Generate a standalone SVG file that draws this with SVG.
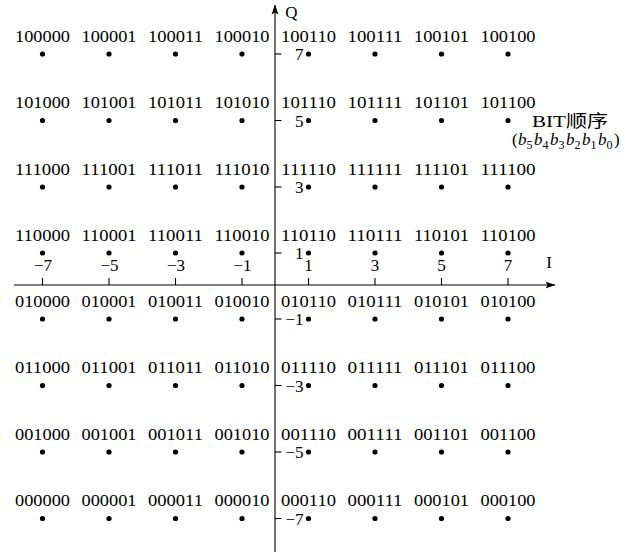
<svg xmlns="http://www.w3.org/2000/svg" width="630" height="552" viewBox="0 0 630 552">
<style>
.lbl{font-family:"Liberation Serif",serif;font-size:17px;text-anchor:middle;fill:#000}
.tk{font-family:"Liberation Serif",serif;font-size:17px;fill:#000}
.tx{text-anchor:middle}
.ty{text-anchor:end}
.ax{stroke:#000;stroke-width:1.1;fill:none}
.dot{fill:#000}
</style>
<defs>
<marker id="arr" viewBox="0 0 10 8" refX="9.5" refY="4" markerWidth="10" markerHeight="8" markerUnits="userSpaceOnUse" orient="auto">
<path d="M0,0.5 L10,4 L0,7.5 L2,4 Z" fill="#000"/>
</marker>
</defs>
<g id="connectors">
<line class="ax" x1="275" y1="552" x2="275" y2="5" marker-end="url(#arr)"/>
<line class="ax" x1="14" y1="285" x2="555" y2="285" marker-end="url(#arr)"/>
<g id="ticks" class="ax">
<line x1="42.5" y1="278" x2="42.5" y2="285"/>
<line x1="109" y1="278" x2="109" y2="285"/>
<line x1="175.5" y1="278" x2="175.5" y2="285"/>
<line x1="242" y1="278" x2="242" y2="285"/>
<line x1="308.5" y1="278" x2="308.5" y2="285"/>
<line x1="375" y1="278" x2="375" y2="285"/>
<line x1="441.5" y1="278" x2="441.5" y2="285"/>
<line x1="508" y1="278" x2="508" y2="285"/>
<line x1="275" y1="54" x2="281.5" y2="54"/>
<line x1="275" y1="120.5" x2="281.5" y2="120.5"/>
<line x1="275" y1="187" x2="281.5" y2="187"/>
<line x1="275" y1="253" x2="281.5" y2="253"/>
<line x1="275" y1="319" x2="281.5" y2="319"/>
<line x1="275" y1="385.5" x2="281.5" y2="385.5"/>
<line x1="275" y1="452" x2="281.5" y2="452"/>
<line x1="275" y1="518.5" x2="281.5" y2="518.5"/>
</g>
</g>
<g id="axis-labels">
<text class="tk tx" x="291.5" y="18" font-size="18">Q</text>
<text class="tk tx" x="549" y="268" font-size="18">I</text>
<text class="tk tx" x="43" y="271">−7</text>
<text class="tk tx" x="109.5" y="271">−5</text>
<text class="tk tx" x="176" y="271">−3</text>
<text class="tk tx" x="242.5" y="271">−1</text>
<text class="tk tx" x="308.5" y="271">1</text>
<text class="tk tx" x="375" y="271">3</text>
<text class="tk tx" x="441.5" y="271">5</text>
<text class="tk tx" x="508" y="271">7</text>
<text class="tk ty" x="303.5" y="60">7</text>
<text class="tk ty" x="303.5" y="126.5">5</text>
<text class="tk ty" x="303.5" y="193">3</text>
<text class="tk ty" x="303.5" y="259">1</text>
<text class="tk ty" x="303.5" y="325">−1</text>
<text class="tk ty" x="303.5" y="391.5">−3</text>
<text class="tk ty" x="303.5" y="458">−5</text>
<text class="tk ty" x="303.5" y="524.5">−7</text>
</g>
<g id="legend">
<text class="tk" x="532" y="127" textLength="76" lengthAdjust="spacingAndGlyphs" style="font-family:'Liberation Serif','Noto Sans CJK SC',serif">BIT顺序</text>
<text class="tk" y="145"><tspan x="512">(</tspan><tspan x="518" font-style="italic">b</tspan><tspan x="526.5" y="149" font-size="12">5</tspan><tspan x="534" y="145" font-style="italic">b</tspan><tspan x="542.5" y="149" font-size="12">4</tspan><tspan x="550" y="145" font-style="italic">b</tspan><tspan x="558.5" y="149" font-size="12">3</tspan><tspan x="566" y="145" font-style="italic">b</tspan><tspan x="574.5" y="149" font-size="12">2</tspan><tspan x="582" y="145" font-style="italic">b</tspan><tspan x="590.5" y="149" font-size="12">1</tspan><tspan x="598" y="145" font-style="italic">b</tspan><tspan x="606.5" y="149" font-size="12">0</tspan><tspan x="614" y="145">)</tspan></text>
</g>
<g id="n100000"><circle class="dot" cx="42.5" cy="54" r="2.6"/><text class="lbl" x="42.5" y="41.5" textLength="55" lengthAdjust="spacingAndGlyphs">100000</text></g>
<g id="n100001"><circle class="dot" cx="109" cy="54" r="2.6"/><text class="lbl" x="109" y="41.5" textLength="55" lengthAdjust="spacingAndGlyphs">100001</text></g>
<g id="n100011"><circle class="dot" cx="175.5" cy="54" r="2.6"/><text class="lbl" x="175.5" y="41.5" textLength="55" lengthAdjust="spacingAndGlyphs">100011</text></g>
<g id="n100010"><circle class="dot" cx="242" cy="54" r="2.6"/><text class="lbl" x="242" y="41.5" textLength="55" lengthAdjust="spacingAndGlyphs">100010</text></g>
<g id="n100110"><circle class="dot" cx="308.5" cy="54" r="2.6"/><text class="lbl" x="308.5" y="41.5" textLength="55" lengthAdjust="spacingAndGlyphs">100110</text></g>
<g id="n100111"><circle class="dot" cx="375" cy="54" r="2.6"/><text class="lbl" x="375" y="41.5" textLength="55" lengthAdjust="spacingAndGlyphs">100111</text></g>
<g id="n100101"><circle class="dot" cx="441.5" cy="54" r="2.6"/><text class="lbl" x="441.5" y="41.5" textLength="55" lengthAdjust="spacingAndGlyphs">100101</text></g>
<g id="n100100"><circle class="dot" cx="508" cy="54" r="2.6"/><text class="lbl" x="508" y="41.5" textLength="55" lengthAdjust="spacingAndGlyphs">100100</text></g>
<g id="n101000"><circle class="dot" cx="42.5" cy="120.5" r="2.6"/><text class="lbl" x="42.5" y="108" textLength="55" lengthAdjust="spacingAndGlyphs">101000</text></g>
<g id="n101001"><circle class="dot" cx="109" cy="120.5" r="2.6"/><text class="lbl" x="109" y="108" textLength="55" lengthAdjust="spacingAndGlyphs">101001</text></g>
<g id="n101011"><circle class="dot" cx="175.5" cy="120.5" r="2.6"/><text class="lbl" x="175.5" y="108" textLength="55" lengthAdjust="spacingAndGlyphs">101011</text></g>
<g id="n101010"><circle class="dot" cx="242" cy="120.5" r="2.6"/><text class="lbl" x="242" y="108" textLength="55" lengthAdjust="spacingAndGlyphs">101010</text></g>
<g id="n101110"><circle class="dot" cx="308.5" cy="120.5" r="2.6"/><text class="lbl" x="308.5" y="108" textLength="55" lengthAdjust="spacingAndGlyphs">101110</text></g>
<g id="n101111"><circle class="dot" cx="375" cy="120.5" r="2.6"/><text class="lbl" x="375" y="108" textLength="55" lengthAdjust="spacingAndGlyphs">101111</text></g>
<g id="n101101"><circle class="dot" cx="441.5" cy="120.5" r="2.6"/><text class="lbl" x="441.5" y="108" textLength="55" lengthAdjust="spacingAndGlyphs">101101</text></g>
<g id="n101100"><circle class="dot" cx="508" cy="120.5" r="2.6"/><text class="lbl" x="508" y="108" textLength="55" lengthAdjust="spacingAndGlyphs">101100</text></g>
<g id="n111000"><circle class="dot" cx="42.5" cy="187" r="2.6"/><text class="lbl" x="42.5" y="174.5" textLength="55" lengthAdjust="spacingAndGlyphs">111000</text></g>
<g id="n111001"><circle class="dot" cx="109" cy="187" r="2.6"/><text class="lbl" x="109" y="174.5" textLength="55" lengthAdjust="spacingAndGlyphs">111001</text></g>
<g id="n111011"><circle class="dot" cx="175.5" cy="187" r="2.6"/><text class="lbl" x="175.5" y="174.5" textLength="55" lengthAdjust="spacingAndGlyphs">111011</text></g>
<g id="n111010"><circle class="dot" cx="242" cy="187" r="2.6"/><text class="lbl" x="242" y="174.5" textLength="55" lengthAdjust="spacingAndGlyphs">111010</text></g>
<g id="n111110"><circle class="dot" cx="308.5" cy="187" r="2.6"/><text class="lbl" x="308.5" y="174.5" textLength="55" lengthAdjust="spacingAndGlyphs">111110</text></g>
<g id="n111111"><circle class="dot" cx="375" cy="187" r="2.6"/><text class="lbl" x="375" y="174.5" textLength="55" lengthAdjust="spacingAndGlyphs">111111</text></g>
<g id="n111101"><circle class="dot" cx="441.5" cy="187" r="2.6"/><text class="lbl" x="441.5" y="174.5" textLength="55" lengthAdjust="spacingAndGlyphs">111101</text></g>
<g id="n111100"><circle class="dot" cx="508" cy="187" r="2.6"/><text class="lbl" x="508" y="174.5" textLength="55" lengthAdjust="spacingAndGlyphs">111100</text></g>
<g id="n110000"><circle class="dot" cx="42.5" cy="253" r="2.6"/><text class="lbl" x="42.5" y="240.5" textLength="55" lengthAdjust="spacingAndGlyphs">110000</text></g>
<g id="n110001"><circle class="dot" cx="109" cy="253" r="2.6"/><text class="lbl" x="109" y="240.5" textLength="55" lengthAdjust="spacingAndGlyphs">110001</text></g>
<g id="n110011"><circle class="dot" cx="175.5" cy="253" r="2.6"/><text class="lbl" x="175.5" y="240.5" textLength="55" lengthAdjust="spacingAndGlyphs">110011</text></g>
<g id="n110010"><circle class="dot" cx="242" cy="253" r="2.6"/><text class="lbl" x="242" y="240.5" textLength="55" lengthAdjust="spacingAndGlyphs">110010</text></g>
<g id="n110110"><circle class="dot" cx="308.5" cy="253" r="2.6"/><text class="lbl" x="308.5" y="240.5" textLength="55" lengthAdjust="spacingAndGlyphs">110110</text></g>
<g id="n110111"><circle class="dot" cx="375" cy="253" r="2.6"/><text class="lbl" x="375" y="240.5" textLength="55" lengthAdjust="spacingAndGlyphs">110111</text></g>
<g id="n110101"><circle class="dot" cx="441.5" cy="253" r="2.6"/><text class="lbl" x="441.5" y="240.5" textLength="55" lengthAdjust="spacingAndGlyphs">110101</text></g>
<g id="n110100"><circle class="dot" cx="508" cy="253" r="2.6"/><text class="lbl" x="508" y="240.5" textLength="55" lengthAdjust="spacingAndGlyphs">110100</text></g>
<g id="n010000"><circle class="dot" cx="42.5" cy="319" r="2.6"/><text class="lbl" x="42.5" y="306.5" textLength="55" lengthAdjust="spacingAndGlyphs">010000</text></g>
<g id="n010001"><circle class="dot" cx="109" cy="319" r="2.6"/><text class="lbl" x="109" y="306.5" textLength="55" lengthAdjust="spacingAndGlyphs">010001</text></g>
<g id="n010011"><circle class="dot" cx="175.5" cy="319" r="2.6"/><text class="lbl" x="175.5" y="306.5" textLength="55" lengthAdjust="spacingAndGlyphs">010011</text></g>
<g id="n010010"><circle class="dot" cx="242" cy="319" r="2.6"/><text class="lbl" x="242" y="306.5" textLength="55" lengthAdjust="spacingAndGlyphs">010010</text></g>
<g id="n010110"><circle class="dot" cx="308.5" cy="319" r="2.6"/><text class="lbl" x="308.5" y="306.5" textLength="55" lengthAdjust="spacingAndGlyphs">010110</text></g>
<g id="n010111"><circle class="dot" cx="375" cy="319" r="2.6"/><text class="lbl" x="375" y="306.5" textLength="55" lengthAdjust="spacingAndGlyphs">010111</text></g>
<g id="n010101"><circle class="dot" cx="441.5" cy="319" r="2.6"/><text class="lbl" x="441.5" y="306.5" textLength="55" lengthAdjust="spacingAndGlyphs">010101</text></g>
<g id="n010100"><circle class="dot" cx="508" cy="319" r="2.6"/><text class="lbl" x="508" y="306.5" textLength="55" lengthAdjust="spacingAndGlyphs">010100</text></g>
<g id="n011000"><circle class="dot" cx="42.5" cy="385.5" r="2.6"/><text class="lbl" x="42.5" y="373" textLength="55" lengthAdjust="spacingAndGlyphs">011000</text></g>
<g id="n011001"><circle class="dot" cx="109" cy="385.5" r="2.6"/><text class="lbl" x="109" y="373" textLength="55" lengthAdjust="spacingAndGlyphs">011001</text></g>
<g id="n011011"><circle class="dot" cx="175.5" cy="385.5" r="2.6"/><text class="lbl" x="175.5" y="373" textLength="55" lengthAdjust="spacingAndGlyphs">011011</text></g>
<g id="n011010"><circle class="dot" cx="242" cy="385.5" r="2.6"/><text class="lbl" x="242" y="373" textLength="55" lengthAdjust="spacingAndGlyphs">011010</text></g>
<g id="n011110"><circle class="dot" cx="308.5" cy="385.5" r="2.6"/><text class="lbl" x="308.5" y="373" textLength="55" lengthAdjust="spacingAndGlyphs">011110</text></g>
<g id="n011111"><circle class="dot" cx="375" cy="385.5" r="2.6"/><text class="lbl" x="375" y="373" textLength="55" lengthAdjust="spacingAndGlyphs">011111</text></g>
<g id="n011101"><circle class="dot" cx="441.5" cy="385.5" r="2.6"/><text class="lbl" x="441.5" y="373" textLength="55" lengthAdjust="spacingAndGlyphs">011101</text></g>
<g id="n011100"><circle class="dot" cx="508" cy="385.5" r="2.6"/><text class="lbl" x="508" y="373" textLength="55" lengthAdjust="spacingAndGlyphs">011100</text></g>
<g id="n001000"><circle class="dot" cx="42.5" cy="452" r="2.6"/><text class="lbl" x="42.5" y="439.5" textLength="55" lengthAdjust="spacingAndGlyphs">001000</text></g>
<g id="n001001"><circle class="dot" cx="109" cy="452" r="2.6"/><text class="lbl" x="109" y="439.5" textLength="55" lengthAdjust="spacingAndGlyphs">001001</text></g>
<g id="n001011"><circle class="dot" cx="175.5" cy="452" r="2.6"/><text class="lbl" x="175.5" y="439.5" textLength="55" lengthAdjust="spacingAndGlyphs">001011</text></g>
<g id="n001010"><circle class="dot" cx="242" cy="452" r="2.6"/><text class="lbl" x="242" y="439.5" textLength="55" lengthAdjust="spacingAndGlyphs">001010</text></g>
<g id="n001110"><circle class="dot" cx="308.5" cy="452" r="2.6"/><text class="lbl" x="308.5" y="439.5" textLength="55" lengthAdjust="spacingAndGlyphs">001110</text></g>
<g id="n001111"><circle class="dot" cx="375" cy="452" r="2.6"/><text class="lbl" x="375" y="439.5" textLength="55" lengthAdjust="spacingAndGlyphs">001111</text></g>
<g id="n001101"><circle class="dot" cx="441.5" cy="452" r="2.6"/><text class="lbl" x="441.5" y="439.5" textLength="55" lengthAdjust="spacingAndGlyphs">001101</text></g>
<g id="n001100"><circle class="dot" cx="508" cy="452" r="2.6"/><text class="lbl" x="508" y="439.5" textLength="55" lengthAdjust="spacingAndGlyphs">001100</text></g>
<g id="n000000"><circle class="dot" cx="42.5" cy="518.5" r="2.6"/><text class="lbl" x="42.5" y="506" textLength="55" lengthAdjust="spacingAndGlyphs">000000</text></g>
<g id="n000001"><circle class="dot" cx="109" cy="518.5" r="2.6"/><text class="lbl" x="109" y="506" textLength="55" lengthAdjust="spacingAndGlyphs">000001</text></g>
<g id="n000011"><circle class="dot" cx="175.5" cy="518.5" r="2.6"/><text class="lbl" x="175.5" y="506" textLength="55" lengthAdjust="spacingAndGlyphs">000011</text></g>
<g id="n000010"><circle class="dot" cx="242" cy="518.5" r="2.6"/><text class="lbl" x="242" y="506" textLength="55" lengthAdjust="spacingAndGlyphs">000010</text></g>
<g id="n000110"><circle class="dot" cx="308.5" cy="518.5" r="2.6"/><text class="lbl" x="308.5" y="506" textLength="55" lengthAdjust="spacingAndGlyphs">000110</text></g>
<g id="n000111"><circle class="dot" cx="375" cy="518.5" r="2.6"/><text class="lbl" x="375" y="506" textLength="55" lengthAdjust="spacingAndGlyphs">000111</text></g>
<g id="n000101"><circle class="dot" cx="441.5" cy="518.5" r="2.6"/><text class="lbl" x="441.5" y="506" textLength="55" lengthAdjust="spacingAndGlyphs">000101</text></g>
<g id="n000100"><circle class="dot" cx="508" cy="518.5" r="2.6"/><text class="lbl" x="508" y="506" textLength="55" lengthAdjust="spacingAndGlyphs">000100</text></g>
</svg>
